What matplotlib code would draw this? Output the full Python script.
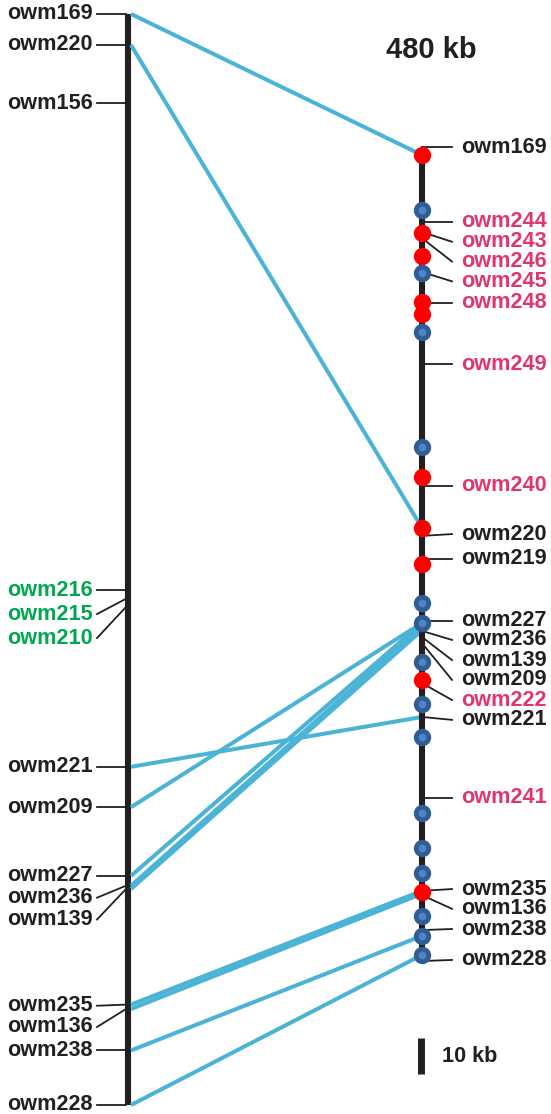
import matplotlib
matplotlib.use("Agg")
import matplotlib.pyplot as plt
from matplotlib.patches import ConnectionPatch

# ---------------- data ----------------
# genetic map (left), positions in cM
left_markers = ["owm169", "owm220", "owm156", "owm216", "owm215", "owm210",
                "owm221", "owm209", "owm227", "owm236", "owm139",
                "owm235", "owm136", "owm238", "owm228"]
left_cm = [0.0, 2.84, 8.16, 52.8, 53.6, 54.35,
           69.0, 72.7, 79.0, 79.9, 80.2,
           90.8, 91.2, 95.0, 100.0]
left_groups = ["k", "k", "k", "g", "g", "g",
               "k", "k", "k", "k", "k",
               "k", "k", "k", "k"]

# physical map (right), marker positions in kb
right_markers = ["owm169", "owm244", "owm243", "owm246", "owm245", "owm248",
                 "owm249", "owm240", "owm220", "owm219", "owm227", "owm236",
                 "owm139", "owm209", "owm222", "owm221", "owm241", "owm235",
                 "owm136", "owm238", "owm228"]
right_kb = [-2.2, 18.5, 21.4, 23.1, 32.5, 41.1,
            58.1, 91.9, 105.8, 112.2, 129.4, 132.2,
            133.9, 135.6, 146.7, 156.1, 178.6, 204.4,
            205.6, 215.3, 223.9]
right_groups = ["k", "p", "p", "p", "p", "p",
                "p", "p", "k", "k", "k", "k",
                "k", "k", "p", "k", "p", "k",
                "k", "k", "k"]

# sequenced clones / anchor points on the physical map (kb)
clone_kb = [0.0, 15.3, 21.7, 28.1, 32.8, 40.8, 44.2, 49.2, 81.1, 89.4,
            103.6, 113.6, 124.4, 130.0, 140.8, 145.8, 152.5, 161.7,
            182.8, 192.5, 199.4, 204.7, 211.4, 216.9, 222.2]
clone_type = ["r", "b", "r", "r", "b", "r", "r", "b", "b", "r",
              "r", "r", "b", "b", "b", "r", "b", "b",
              "b", "b", "b", "r", "b", "b", "b"]

# links genetic (cM) -> physical (kb)
link_markers = ["owm169", "owm220", "owm221", "owm209", "owm227", "owm236",
                "owm139", "owm235", "owm136", "owm238", "owm228"]
link_cm = [0.0, 2.84, 69.0, 72.7, 79.0, 79.9, 80.2, 90.8, 91.2, 95.0, 100.0]
link_kb = [0.0, 103.6, 156.1, 130.0, 130.0, 131.0, 132.0, 204.4, 205.2, 216.9, 222.2]

right_extent_kb = (-1.0, 224.5)
scale_kb = 10
region_label = "480 kb"

# ---------------- layout ----------------
W, H = 551, 1114
L_TOP_PX, L_PX_PER_CM = 14, 10.91
R_TOP_PX, R_PX_PER_KB = 155, 3.6
XL, XR = 128, 422

# label placement (same units as the respective map)
left_label_y = {"owm215": 55.0, "owm210": 57.2, "owm236": 81.0,
                "owm139": 83.0, "owm235": 90.9, "owm136": 92.85}
right_label_y = {"owm243": 24.1, "owm246": 29.6, "owm245": 35.1,
                 "owm220": 105.3, "owm236": 134.7, "owm139": 140.3,
                 "owm209": 145.8, "owm222": 151.4, "owm221": 156.9,
                 "owm235": 203.9, "owm136": 209.4, "owm238": 215.0,
                 "owm228": 223.6}

BLACK = "#231f20"
COLORS = {"k": BLACK, "p": "#e0366f", "g": "#00a651"}
LINK = "#4ab3d6"
RED = "#ff0000"
BLUE_DARK = "#305e94"
BLUE_LIGHT = "#4f84c6"
FONT = ["Liberation Sans", "DejaVu Sans"]
FS = 15.6

fig = plt.figure(figsize=(W / 100, H / 100), dpi=100)
fig.patch.set_facecolor("white")

axL = fig.add_axes([0, 0, 1, 1])
axR = fig.add_axes([0, 0, 1, 1])
axL.set_xlim(0, W)
axR.set_xlim(0, W)
axL.set_ylim((H - L_TOP_PX) / L_PX_PER_CM, -L_TOP_PX / L_PX_PER_CM)
axR.set_ylim((H - R_TOP_PX) / R_PX_PER_KB, -R_TOP_PX / R_PX_PER_KB)
for a in (axL, axR):
    a.axis("off")
axR.patch.set_visible(False)

# left chromosome
axL.plot([XL, XL], [min(left_cm), max(left_cm)], color=BLACK, lw=4.4,
         solid_capstyle="butt", zorder=3)
for name, y, g in zip(left_markers, left_cm, left_groups):
    ly = left_label_y.get(name, y)
    axL.plot([97, XL - 2], [ly, y], color=BLACK, lw=1.3, zorder=2)
    axL.text(93, ly, name, ha="right", va="center", fontsize=FS,
             fontweight="bold", color=COLORS[g], family=FONT)

# right contig
axR.plot([XR, XR], list(right_extent_kb), color=BLACK, lw=4.4,
         solid_capstyle="butt", zorder=3)
for name, y, g in zip(right_markers, right_kb, right_groups):
    ly = right_label_y.get(name, y)
    axR.plot([XR, 452], [y, ly], color=BLACK, lw=1.3, zorder=2)
    axR.text(461, ly, name, ha="left", va="center", fontsize=FS,
             fontweight="bold", color=COLORS[g], family=FONT)

# links between the two maps
for cm, kb in zip(link_cm, link_kb):
    con = ConnectionPatch(xyA=(XL + 3, cm), coordsA="data", axesA=axL,
                          xyB=(XR, kb), coordsB="data", axesB=axR,
                          color=LINK, lw=2.9, capstyle="butt", zorder=2.5)
    axR.add_artist(con)

# clones
for kb, t in zip(clone_kb, clone_type):
    if t == "r":
        axR.plot(XR, kb, "o", ms=12.5, mfc=RED, mec=RED, mew=0, zorder=5)
    else:
        axR.plot(XR, kb, "o", ms=12.5, mfc=BLUE_DARK, mec=BLUE_DARK, mew=0, zorder=5)
        axR.plot(XR, kb, "o", ms=5.5, mfc=BLUE_LIGHT, mec=BLUE_LIGHT, mew=0, zorder=6)

# scale bar
sb_top = 245.3
axR.plot([420.5, 420.5], [sb_top, sb_top + scale_kb], color=BLACK, lw=5,
         solid_capstyle="butt")
axR.text(442, sb_top + scale_kb / 2, f"{scale_kb} kb", ha="left", va="center",
         fontsize=FS, fontweight="bold", color=BLACK, family=FONT)

fig.text(431 / W, 1 - 50 / H, region_label, ha="center", va="center",
         fontsize=21, fontweight="bold", color=BLACK, family=FONT)

fig.savefig("out.png", dpi=100)
